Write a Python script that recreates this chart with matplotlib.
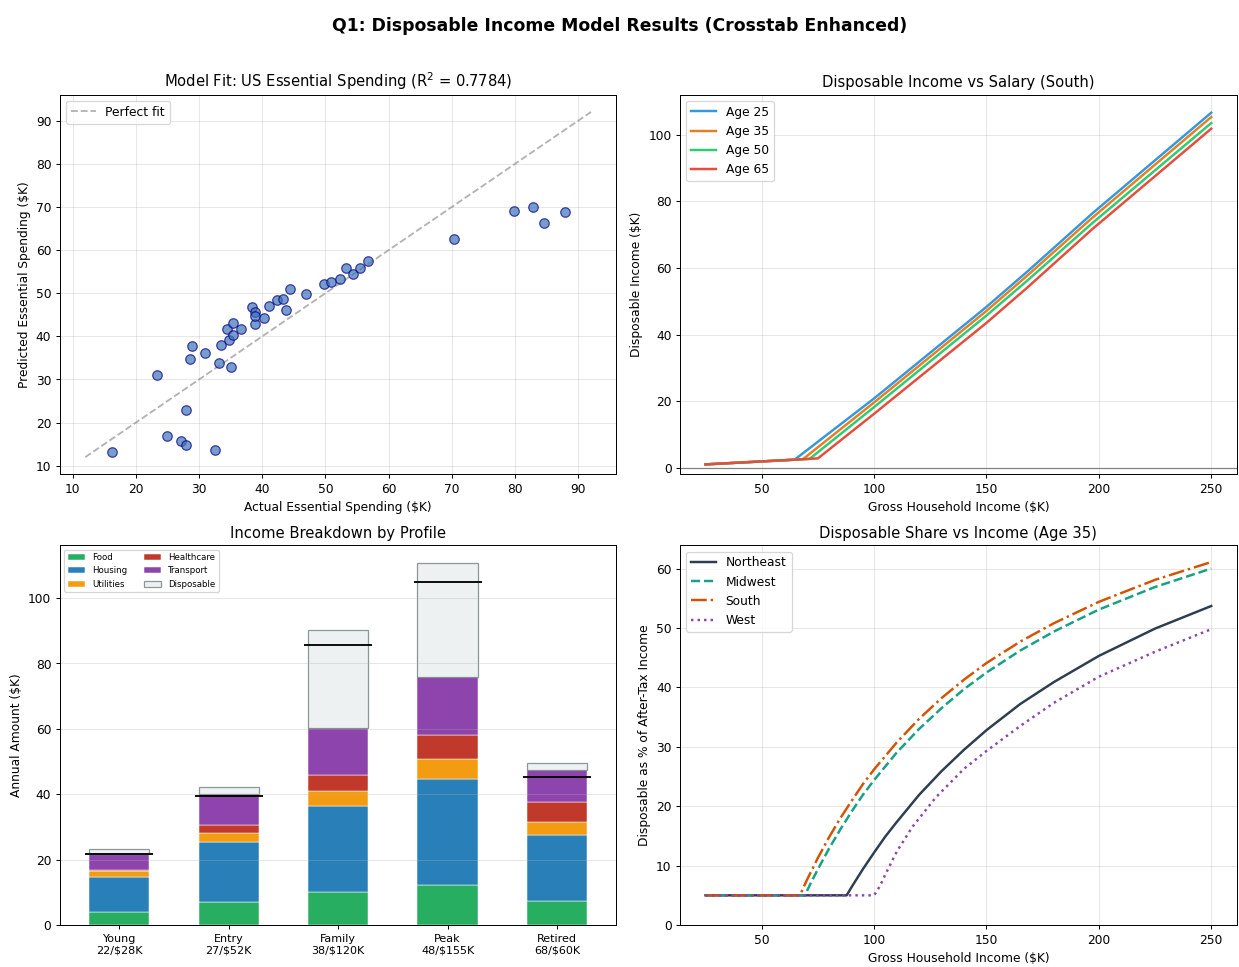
import numpy as np
import matplotlib
matplotlib.use("Agg")
import matplotlib.pyplot as plt

# --- model fit scatter (actual vs predicted essential spending, $K)
actual = [16.2, 23.4, 24.9, 27.1, 27.9, 28.0, 28.5, 28.9, 30.9, 32.5,
          33.2, 33.4, 34.4, 34.7, 35.3, 35.3, 35.0, 36.6, 38.3, 38.8,
          38.9, 38.9, 40.3, 41.1, 42.3, 43.3, 43.8, 44.4, 46.9, 49.7,
          50.8, 52.3, 53.2, 54.4, 55.4, 56.7, 70.4, 79.9, 82.9, 84.5, 87.9]
predicted = [13.3, 31.0, 16.8, 15.7, 14.7, 22.9, 34.7, 37.8, 36.2, 13.6,
             33.8, 38.0, 41.8, 39.1, 43.0, 40.4, 32.9, 41.8, 46.8, 42.9,
             45.6, 44.7, 44.3, 47.1, 48.5, 48.7, 46.1, 51.0, 49.7, 52.1,
             52.6, 53.3, 55.9, 54.5, 55.9, 57.4, 62.6, 69.1, 69.9, 66.2, 68.8]
fit_range = [12, 92]

# --- disposable income vs salary (South), per age
age_labels = ["Age 25", "Age 35", "Age 50", "Age 65"]
age_x = [[25, 64.6, 100, 150, 168, 197, 250],
         [25, 68.3, 100, 150, 168, 197, 250],
         [25, 71.3, 100, 150, 168, 197, 250],
         [25, 75.0, 100, 150, 168, 197, 250]]
age_y = [[1.0, 2.4, 20.8, 48.3, 58.8, 76.3, 106.6],
         [1.0, 2.55, 19.6, 47.1, 57.6, 75.0, 105.3],
         [1.0, 2.65, 18.2, 45.7, 56.1, 73.4, 103.5],
         [1.0, 2.8, 16.2, 43.5, 54.0, 71.6, 101.8]]
age_colors = ["#3498db", "#e67e22", "#2ecc71", "#e74c3c"]

# --- income breakdown by profile
profiles = ["Young\n22/$28K", "Entry\n27/$52K", "Family\n38/$120K",
            "Peak\n48/$155K", "Retired\n68/$60K"]
food = [4.1, 7.1, 10.0, 12.3, 7.5]
housing = [10.5, 18.3, 26.4, 32.5, 19.9]
utilities = [1.8, 2.9, 4.5, 5.9, 4.1]
healthcare = [0.5, 2.3, 5.1, 7.4, 6.1]
transport = [4.9, 9.6, 14.4, 17.9, 9.7]
disposable = [1.6, 2.0, 29.7, 34.6, 2.2]
after_tax = [21.8, 39.4, 85.6, 104.8, 45.4]

# --- disposable share vs income (Age 35), per region
regions = ["Northeast", "Midwest", "South", "West"]
reg_x = [[25, 87.8, 90, 95, 100, 105, 110, 120, 130, 140, 150, 165, 180, 200, 225, 250],
         [25, 69.2, 72, 75, 80, 85, 90, 95, 100, 110, 120, 130, 140, 150, 165, 180, 200, 225, 250],
         [25, 67, 70, 75, 80, 85, 90, 95, 100, 110, 120, 130, 140, 150, 165, 180, 200, 225, 250],
         [25, 100, 102.5, 105, 110, 117, 127.5, 140, 150, 165, 180, 200, 225, 250]]
reg_y = [[5, 5.0, 6.4, 9.4, 12.2, 14.9, 17.3, 21.9, 25.9, 29.5, 32.8, 37.2, 40.9, 45.3, 49.9, 53.7],
         [5, 5.0, 7.2, 9.4, 12.9, 16.1, 19.1, 21.9, 24.4, 29.0, 33.0, 36.5, 39.7, 42.5, 46.2, 49.4, 53.1, 56.9, 60.0],
         [5, 5.0, 7.5, 11.3, 14.8, 18.0, 20.9, 23.7, 26.2, 30.7, 34.7, 38.2, 41.3, 44.1, 47.7, 50.8, 54.4, 58.1, 61.1],
         [5, 5.0, 6.5, 8.5, 12.3, 16.5, 21.5, 26.3, 29.3, 33.5, 37.4, 41.8, 46.0, 49.8]]
reg_colors = ["#2c3e50", "#16a085", "#d35400", "#8e44ad"]
reg_styles = ["-", "--", "-.", ":"]

fig, axes = plt.subplots(2, 2, figsize=(14, 10.927), dpi=88.5)
fig.subplots_adjust(left=0.0484, right=0.998, top=0.902, bottom=0.0434,
                    wspace=0.115, hspace=0.187)
fig.suptitle("Q1: Disposable Income Model Results (Crosstab Enhanced)",
             fontsize=14, fontweight="bold", y=0.982)

# top left
ax = axes[0, 0]
ax.scatter(actual, predicted, s=60, c="#3d72b8", alpha=0.7,
           edgecolors="navy", linewidths=1, zorder=3)
ax.plot(fit_range, fit_range, "--", color="gray", alpha=0.6, lw=1.5,
        label="Perfect fit")
ax.set_xlabel("Actual Essential Spending ($K)")
ax.set_ylabel("Predicted Essential Spending ($K)")
ax.set_title("Model Fit: US Essential Spending (R$^2$ = 0.7784)", fontsize=12)
ax.legend(loc="upper left")
ax.grid(True, alpha=0.3)

# top right
ax = axes[0, 1]
for xs, ys, lab, col in zip(age_x, age_y, age_labels, age_colors):
    ax.plot(xs, ys, color=col, lw=2, label=lab)
ax.axhline(0, color="gray", lw=1)
ax.set_ylim(-2, 112)
ax.set_xlabel("Gross Household Income ($K)")
ax.set_ylabel("Disposable Income ($K)")
ax.set_title("Disposable Income vs Salary (South)", fontsize=12)
ax.legend(loc="upper left")
ax.grid(True, alpha=0.3)

# bottom left
ax = axes[1, 0]
x = np.arange(len(profiles))
w = 0.55
bottom = np.zeros(len(profiles))
for vals, lab, col in [(food, "Food", "#27ae60"), (housing, "Housing", "#2980b9"),
                       (utilities, "Utilities", "#f39c12"),
                       (healthcare, "Healthcare", "#c0392b"),
                       (transport, "Transport", "#8e44ad")]:
    ax.bar(x, vals, w, bottom=bottom, color=col, label=lab,
           edgecolor="white", linewidth=0.4)
    bottom += np.array(vals)
ax.bar(x, disposable, w, bottom=bottom, color="#ecf0f1", edgecolor="#7f8c8d",
       linewidth=1, alpha=0.9, label="Disposable")
for i, v in enumerate(after_tax):
    ax.hlines(v, i - 0.31, i + 0.31, color="black", lw=1.5, zorder=4)
ax.set_xticks(x)
ax.set_xticklabels(profiles, fontsize=9)
ax.set_ylabel("Annual Amount ($K)")
ax.set_title("Income Breakdown by Profile", fontsize=12)
ax.legend(loc="upper left", ncol=2, fontsize=7)
ax.grid(True, axis="y", alpha=0.3)

# bottom right
ax = axes[1, 1]
for xs, ys, lab, col, ls in zip(reg_x, reg_y, regions, reg_colors, reg_styles):
    ax.plot(xs, ys, color=col, ls=ls, lw=2, label=lab)
ax.set_ylim(bottom=0)
ax.set_xlabel("Gross Household Income ($K)")
ax.set_ylabel("Disposable as % of After-Tax Income")
ax.set_title("Disposable Share vs Income (Age 35)", fontsize=12)
ax.legend(loc="upper left")
ax.grid(True, alpha=0.3)

fig.savefig("out.png", dpi=88.5)
